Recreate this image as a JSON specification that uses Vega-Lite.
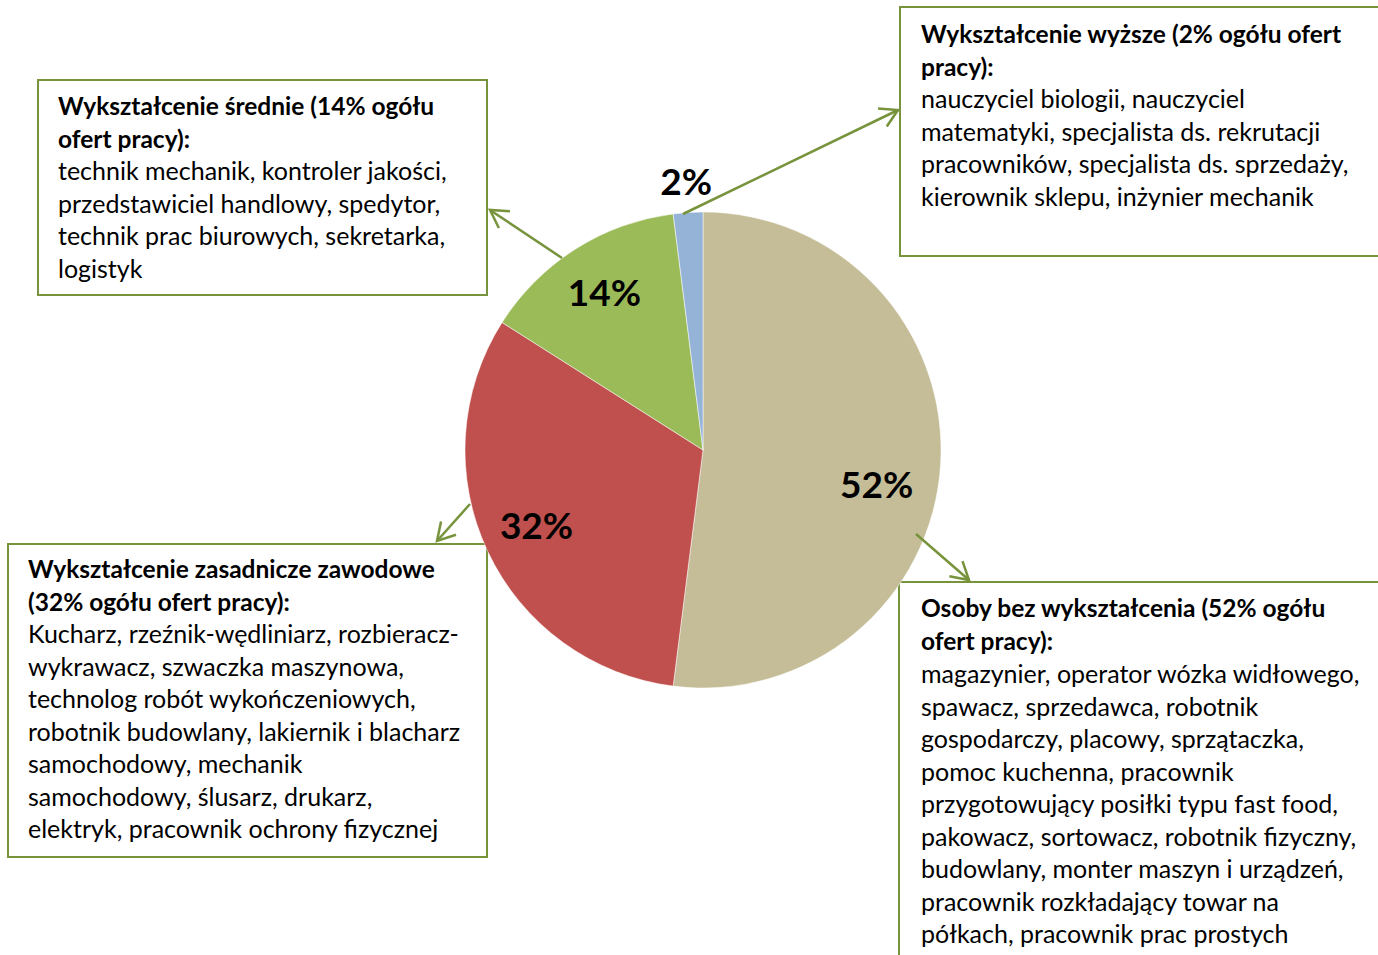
{
  "$schema": "https://vega.github.io/schema/vega-lite/v6.json",
  "width": 1378,
  "height": 955,
  "autosize": {"type": "fit", "contains": "padding"},
  "padding": 0,
  "background": "white",
  "config": {"view": {"stroke": null}},
  "datasets": {
    "pie": [
      {"cat": "Osoby bez wykształcenia", "value": 52, "label": "52%", "ord": 1},
      {"cat": "Wykształcenie zasadnicze zawodowe", "value": 32, "label": "32%", "ord": 2},
      {"cat": "Wykształcenie średnie", "value": 14, "label": "14%", "ord": 3},
      {"cat": "Wykształcenie wyższe", "value": 2, "label": "2%", "ord": 4}
    ],
    "boxes": [
      {"box": "srednie", "x": 38, "x2": 487, "y": 80, "y2": 295},
      {"box": "wyzsze", "x": 900, "x2": 1385, "y": 7, "y2": 256},
      {"box": "zasadnicze", "x": 8, "x2": 487, "y": 544, "y2": 857},
      {"box": "bez", "x": 899, "x2": 1385, "y": 582, "y2": 975}
    ],
    "arrows": [
      {"box": "srednie", "x": 562, "y": 258, "x2": 490, "y2": 210, "angle": 213.7},
      {"box": "wyzsze", "x": 683, "y": 214, "x2": 898, "y2": 110, "angle": 334.2},
      {"box": "zasadnicze", "x": 470, "y": 504, "x2": 437, "y2": 541, "angle": 131.7},
      {"box": "bez", "x": 916, "y": 534, "x2": 969, "y2": 580, "angle": 41}
    ],
    "texts": [
      {"box": "srednie", "kind": "title", "x": 58, "y": 115, "text": "Wykształcenie średnie (14% ogółu\nofert pracy):"},
      {"box": "srednie", "kind": "body", "x": 58, "y": 180, "text": "technik mechanik, kontroler jakości,\nprzedstawiciel handlowy, spedytor,\ntechnik prac biurowych, sekretarka,\nlogistyk"},
      {"box": "wyzsze", "kind": "title", "x": 921, "y": 43, "text": "Wykształcenie wyższe (2% ogółu ofert\npracy):"},
      {"box": "wyzsze", "kind": "body", "x": 921, "y": 108, "text": "nauczyciel biologii, nauczyciel\nmatematyki, specjalista ds. rekrutacji\npracowników, specjalista ds. sprzedaży,\nkierownik sklepu, inżynier mechanik"},
      {"box": "zasadnicze", "kind": "title", "x": 28, "y": 578, "text": "Wykształcenie zasadnicze zawodowe\n(32% ogółu ofert pracy):"},
      {"box": "zasadnicze", "kind": "body", "x": 28, "y": 643, "text": "Kucharz, rzeźnik-wędliniarz, rozbieracz-\nwykrawacz, szwaczka maszynowa,\ntechnolog robót wykończeniowych,\nrobotnik budowlany, lakiernik i blacharz\nsamochodowy, mechanik\nsamochodowy, ślusarz, drukarz,\nelektryk, pracownik ochrony fizycznej"},
      {"box": "bez", "kind": "title", "x": 921, "y": 617, "text": "Osoby bez wykształcenia (52% ogółu\nofert pracy):"},
      {"box": "bez", "kind": "body", "x": 921, "y": 683, "text": "magazynier, operator wózka widłowego,\nspawacz, sprzedawca, robotnik\ngospodarczy, placowy, sprzątaczka,\npomoc kuchenna, pracownik\nprzygotowujący posiłki typu fast food,\npakowacz, sortowacz, robotnik fizyczny,\nbudowlany, monter maszyn i urządzeń,\npracownik rozkładający towar na\npółkach, pracownik prac prostych"}
    ]
  },
  "layer": [
    {
      "data": {"name": "boxes"},
      "mark": {"type": "rect", "fill": "white", "stroke": "#77933C", "strokeWidth": 2, "clip": true},
      "encoding": {
        "x": {"field": "x", "type": "quantitative", "scale": {"domain": [0, 1378], "nice": false, "zero": false}, "axis": null},
        "x2": {"field": "x2"},
        "y": {"field": "y", "type": "quantitative", "scale": {"domain": [0, 955], "nice": false, "zero": false, "reverse": true}, "axis": null},
        "y2": {"field": "y2"}
      }
    },
    {
      "data": {"name": "pie"},
      "mark": {"type": "arc", "outerRadius": 238, "stroke": "white", "strokeWidth": 0.5},
      "encoding": {
        "theta": {"field": "value", "type": "quantitative", "stack": true},
        "order": {"field": "ord", "type": "quantitative"},
        "color": {"field": "cat", "type": "nominal", "legend": null,
          "scale": {"domain": ["Osoby bez wykształcenia", "Wykształcenie zasadnicze zawodowe", "Wykształcenie średnie", "Wykształcenie wyższe"],
                    "range": ["#C4BD97", "#C0504D", "#9BBB59", "#95B3D7"]}},
        "x": {"datum": 703, "type": "quantitative"},
        "y": {"datum": 450, "type": "quantitative"}
      }
    },
    {
      "data": {"name": "pie"},
      "mark": {"type": "text", "radius": 184, "font": "Lato", "fontWeight": "bold", "fontSize": 37, "align": "center", "baseline": "middle", "color": "black"},
      "encoding": {
        "theta": {"field": "value", "type": "quantitative", "stack": true},
        "order": {"field": "ord", "type": "quantitative"},
        "text": {"condition": {"test": "datum.value >= 10 && datum.value < 50", "field": "label"}, "value": ""},
        "x": {"datum": 703, "type": "quantitative"},
        "y": {"datum": 450, "type": "quantitative"}
      }
    },
    {
      "data": {"name": "pie"},
      "mark": {"type": "text", "radius": 182, "dx": -8, "dy": 26, "font": "Lato", "fontWeight": "bold", "fontSize": 37, "align": "center", "baseline": "middle", "color": "black"},
      "encoding": {
        "theta": {"field": "value", "type": "quantitative", "stack": true},
        "order": {"field": "ord", "type": "quantitative"},
        "text": {"condition": {"test": "datum.value >= 50", "field": "label"}, "value": ""},
        "x": {"datum": 703, "type": "quantitative"},
        "y": {"datum": 450, "type": "quantitative"}
      }
    },
    {
      "data": {"name": "pie"},
      "mark": {"type": "text", "radius": 267, "font": "Lato", "fontWeight": "bold", "fontSize": 37, "align": "center", "baseline": "middle", "color": "black"},
      "encoding": {
        "theta": {"field": "value", "type": "quantitative", "stack": true},
        "order": {"field": "ord", "type": "quantitative"},
        "text": {"condition": {"test": "datum.value < 10", "field": "label"}, "value": ""},
        "x": {"datum": 703, "type": "quantitative"},
        "y": {"datum": 450, "type": "quantitative"}
      }
    },
    {
      "data": {"name": "arrows"},
      "mark": {"type": "rule", "stroke": "#77933C", "strokeWidth": 2.5},
      "encoding": {
        "x": {"field": "x", "type": "quantitative"},
        "x2": {"field": "x2"},
        "y": {"field": "y", "type": "quantitative"},
        "y2": {"field": "y2"}
      }
    },
    {
      "data": {"name": "arrows"},
      "mark": {"type": "point", "shape": "M -1.732 -1 L 0 0 L -1.732 1", "filled": false, "stroke": "#77933C", "strokeWidth": 2.5, "size": 400, "opacity": 1},
      "encoding": {
        "x": {"field": "x2", "type": "quantitative"},
        "y": {"field": "y2", "type": "quantitative"},
        "angle": {"field": "angle", "type": "quantitative", "scale": null}
      }
    },
    {
      "data": {"name": "texts"},
      "transform": [{"filter": "datum.kind === 'title'"}],
      "mark": {"type": "text", "font": "Lato", "fontWeight": "bold", "fontSize": 24.5, "lineHeight": 32.5, "lineBreak": "\n", "align": "left", "baseline": "alphabetic", "color": "black"},
      "encoding": {
        "x": {"field": "x", "type": "quantitative"},
        "y": {"field": "y", "type": "quantitative"},
        "text": {"field": "text"}
      }
    },
    {
      "data": {"name": "texts"},
      "transform": [{"filter": "datum.kind === 'body'"}],
      "mark": {"type": "text", "font": "Lato", "fontSize": 25, "lineHeight": 32.5, "lineBreak": "\n", "align": "left", "baseline": "alphabetic", "color": "black"},
      "encoding": {
        "x": {"field": "x", "type": "quantitative"},
        "y": {"field": "y", "type": "quantitative"},
        "text": {"field": "text"}
      }
    }
  ]
}
